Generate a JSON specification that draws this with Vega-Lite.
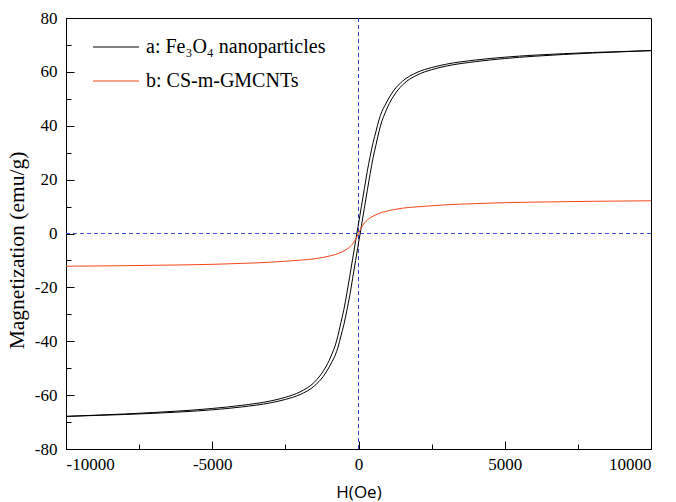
{
  "$schema": "https://vega.github.io/schema/vega-lite/v6.json",
  "width": 585,
  "height": 431,
  "autosize": "none",
  "padding": {"left": 66, "top": 18, "right": 25, "bottom": 53},
  "background": "white",
  "config": {
    "view": {"stroke": "#000", "strokeWidth": 1},
    "axis": {
      "domainColor": "#000", "tickColor": "#000", "labelColor": "#000", "titleColor": "#000",
      "labelFont": "Liberation Serif", "labelFontSize": 17, "grid": false, "tickWidth": 1
    }
  },
  "datasets": {
    "curves": [
      {"sample": "a: Fe₃O₄ nanoparticles", "branch": "d", "H": 10000, "M": 67.9},
      {"sample": "a: Fe₃O₄ nanoparticles", "branch": "d", "H": 9000, "M": 67.55},
      {"sample": "a: Fe₃O₄ nanoparticles", "branch": "d", "H": 8000, "M": 67.2},
      {"sample": "a: Fe₃O₄ nanoparticles", "branch": "d", "H": 7000, "M": 66.75},
      {"sample": "a: Fe₃O₄ nanoparticles", "branch": "d", "H": 6000, "M": 66.2},
      {"sample": "a: Fe₃O₄ nanoparticles", "branch": "d", "H": 5000, "M": 65.45},
      {"sample": "a: Fe₃O₄ nanoparticles", "branch": "d", "H": 4000, "M": 64.4},
      {"sample": "a: Fe₃O₄ nanoparticles", "branch": "d", "H": 3000, "M": 62.85},
      {"sample": "a: Fe₃O₄ nanoparticles", "branch": "d", "H": 2500, "M": 61.6},
      {"sample": "a: Fe₃O₄ nanoparticles", "branch": "d", "H": 2000, "M": 59.8},
      {"sample": "a: Fe₃O₄ nanoparticles", "branch": "d", "H": 1500, "M": 56.5},
      {"sample": "a: Fe₃O₄ nanoparticles", "branch": "d", "H": 1200, "M": 53.0},
      {"sample": "a: Fe₃O₄ nanoparticles", "branch": "d", "H": 1000, "M": 49.55},
      {"sample": "a: Fe₃O₄ nanoparticles", "branch": "d", "H": 900, "M": 47.5},
      {"sample": "a: Fe₃O₄ nanoparticles", "branch": "d", "H": 800, "M": 45.3},
      {"sample": "a: Fe₃O₄ nanoparticles", "branch": "d", "H": 700, "M": 42.2},
      {"sample": "a: Fe₃O₄ nanoparticles", "branch": "d", "H": 600, "M": 38.0},
      {"sample": "a: Fe₃O₄ nanoparticles", "branch": "d", "H": 500, "M": 33.8},
      {"sample": "a: Fe₃O₄ nanoparticles", "branch": "d", "H": 400, "M": 28.7},
      {"sample": "a: Fe₃O₄ nanoparticles", "branch": "d", "H": 300, "M": 23.1},
      {"sample": "a: Fe₃O₄ nanoparticles", "branch": "d", "H": 200, "M": 16.6},
      {"sample": "a: Fe₃O₄ nanoparticles", "branch": "d", "H": 100, "M": 10.1},
      {"sample": "a: Fe₃O₄ nanoparticles", "branch": "d", "H": 0, "M": 3.6},
      {"sample": "a: Fe₃O₄ nanoparticles", "branch": "d", "H": -100, "M": -2.9},
      {"sample": "a: Fe₃O₄ nanoparticles", "branch": "d", "H": -200, "M": -9.4},
      {"sample": "a: Fe₃O₄ nanoparticles", "branch": "d", "H": -300, "M": -15.9},
      {"sample": "a: Fe₃O₄ nanoparticles", "branch": "d", "H": -400, "M": -22.3},
      {"sample": "a: Fe₃O₄ nanoparticles", "branch": "d", "H": -500, "M": -28.2},
      {"sample": "a: Fe₃O₄ nanoparticles", "branch": "d", "H": -600, "M": -33.0},
      {"sample": "a: Fe₃O₄ nanoparticles", "branch": "d", "H": -700, "M": -37.8},
      {"sample": "a: Fe₃O₄ nanoparticles", "branch": "d", "H": -800, "M": -41.7},
      {"sample": "a: Fe₃O₄ nanoparticles", "branch": "d", "H": -900, "M": -44.5},
      {"sample": "a: Fe₃O₄ nanoparticles", "branch": "d", "H": -1000, "M": -47.05},
      {"sample": "a: Fe₃O₄ nanoparticles", "branch": "d", "H": -1200, "M": -51.0},
      {"sample": "a: Fe₃O₄ nanoparticles", "branch": "d", "H": -1500, "M": -55.1},
      {"sample": "a: Fe₃O₄ nanoparticles", "branch": "d", "H": -2000, "M": -58.8},
      {"sample": "a: Fe₃O₄ nanoparticles", "branch": "d", "H": -2500, "M": -60.8},
      {"sample": "a: Fe₃O₄ nanoparticles", "branch": "d", "H": -3000, "M": -62.15},
      {"sample": "a: Fe₃O₄ nanoparticles", "branch": "d", "H": -4000, "M": -63.8},
      {"sample": "a: Fe₃O₄ nanoparticles", "branch": "d", "H": -5000, "M": -64.95},
      {"sample": "a: Fe₃O₄ nanoparticles", "branch": "d", "H": -6000, "M": -65.8},
      {"sample": "a: Fe₃O₄ nanoparticles", "branch": "d", "H": -7000, "M": -66.45},
      {"sample": "a: Fe₃O₄ nanoparticles", "branch": "d", "H": -8000, "M": -67.0},
      {"sample": "a: Fe₃O₄ nanoparticles", "branch": "d", "H": -9000, "M": -67.45},
      {"sample": "a: Fe₃O₄ nanoparticles", "branch": "d", "H": -10000, "M": -67.9},
      {"sample": "a: Fe₃O₄ nanoparticles", "branch": "u", "H": -10000, "M": -67.9},
      {"sample": "a: Fe₃O₄ nanoparticles", "branch": "u", "H": -9000, "M": -67.55},
      {"sample": "a: Fe₃O₄ nanoparticles", "branch": "u", "H": -8000, "M": -67.2},
      {"sample": "a: Fe₃O₄ nanoparticles", "branch": "u", "H": -7000, "M": -66.75},
      {"sample": "a: Fe₃O₄ nanoparticles", "branch": "u", "H": -6000, "M": -66.2},
      {"sample": "a: Fe₃O₄ nanoparticles", "branch": "u", "H": -5000, "M": -65.45},
      {"sample": "a: Fe₃O₄ nanoparticles", "branch": "u", "H": -4000, "M": -64.4},
      {"sample": "a: Fe₃O₄ nanoparticles", "branch": "u", "H": -3000, "M": -62.85},
      {"sample": "a: Fe₃O₄ nanoparticles", "branch": "u", "H": -2500, "M": -61.6},
      {"sample": "a: Fe₃O₄ nanoparticles", "branch": "u", "H": -2000, "M": -59.8},
      {"sample": "a: Fe₃O₄ nanoparticles", "branch": "u", "H": -1500, "M": -56.5},
      {"sample": "a: Fe₃O₄ nanoparticles", "branch": "u", "H": -1200, "M": -53.0},
      {"sample": "a: Fe₃O₄ nanoparticles", "branch": "u", "H": -1000, "M": -49.55},
      {"sample": "a: Fe₃O₄ nanoparticles", "branch": "u", "H": -900, "M": -47.5},
      {"sample": "a: Fe₃O₄ nanoparticles", "branch": "u", "H": -800, "M": -45.3},
      {"sample": "a: Fe₃O₄ nanoparticles", "branch": "u", "H": -700, "M": -42.2},
      {"sample": "a: Fe₃O₄ nanoparticles", "branch": "u", "H": -600, "M": -38.0},
      {"sample": "a: Fe₃O₄ nanoparticles", "branch": "u", "H": -500, "M": -33.8},
      {"sample": "a: Fe₃O₄ nanoparticles", "branch": "u", "H": -400, "M": -28.7},
      {"sample": "a: Fe₃O₄ nanoparticles", "branch": "u", "H": -300, "M": -23.1},
      {"sample": "a: Fe₃O₄ nanoparticles", "branch": "u", "H": -200, "M": -16.6},
      {"sample": "a: Fe₃O₄ nanoparticles", "branch": "u", "H": -100, "M": -10.1},
      {"sample": "a: Fe₃O₄ nanoparticles", "branch": "u", "H": 0, "M": -3.6},
      {"sample": "a: Fe₃O₄ nanoparticles", "branch": "u", "H": 100, "M": 2.9},
      {"sample": "a: Fe₃O₄ nanoparticles", "branch": "u", "H": 200, "M": 9.4},
      {"sample": "a: Fe₃O₄ nanoparticles", "branch": "u", "H": 300, "M": 15.9},
      {"sample": "a: Fe₃O₄ nanoparticles", "branch": "u", "H": 400, "M": 22.3},
      {"sample": "a: Fe₃O₄ nanoparticles", "branch": "u", "H": 500, "M": 28.2},
      {"sample": "a: Fe₃O₄ nanoparticles", "branch": "u", "H": 600, "M": 33.0},
      {"sample": "a: Fe₃O₄ nanoparticles", "branch": "u", "H": 700, "M": 37.8},
      {"sample": "a: Fe₃O₄ nanoparticles", "branch": "u", "H": 800, "M": 41.7},
      {"sample": "a: Fe₃O₄ nanoparticles", "branch": "u", "H": 900, "M": 44.5},
      {"sample": "a: Fe₃O₄ nanoparticles", "branch": "u", "H": 1000, "M": 47.05},
      {"sample": "a: Fe₃O₄ nanoparticles", "branch": "u", "H": 1200, "M": 51.0},
      {"sample": "a: Fe₃O₄ nanoparticles", "branch": "u", "H": 1500, "M": 55.1},
      {"sample": "a: Fe₃O₄ nanoparticles", "branch": "u", "H": 2000, "M": 58.8},
      {"sample": "a: Fe₃O₄ nanoparticles", "branch": "u", "H": 2500, "M": 60.8},
      {"sample": "a: Fe₃O₄ nanoparticles", "branch": "u", "H": 3000, "M": 62.15},
      {"sample": "a: Fe₃O₄ nanoparticles", "branch": "u", "H": 4000, "M": 63.8},
      {"sample": "a: Fe₃O₄ nanoparticles", "branch": "u", "H": 5000, "M": 64.95},
      {"sample": "a: Fe₃O₄ nanoparticles", "branch": "u", "H": 6000, "M": 65.8},
      {"sample": "a: Fe₃O₄ nanoparticles", "branch": "u", "H": 7000, "M": 66.45},
      {"sample": "a: Fe₃O₄ nanoparticles", "branch": "u", "H": 8000, "M": 67.0},
      {"sample": "a: Fe₃O₄ nanoparticles", "branch": "u", "H": 9000, "M": 67.45},
      {"sample": "a: Fe₃O₄ nanoparticles", "branch": "u", "H": 10000, "M": 67.9},
      {"sample": "b: CS-m-GMCNTs", "branch": "d", "H": -10000, "M": -12.15},
      {"sample": "b: CS-m-GMCNTs", "branch": "d", "H": -9000, "M": -12.05},
      {"sample": "b: CS-m-GMCNTs", "branch": "d", "H": -8000, "M": -11.95},
      {"sample": "b: CS-m-GMCNTs", "branch": "d", "H": -7000, "M": -11.8},
      {"sample": "b: CS-m-GMCNTs", "branch": "d", "H": -6000, "M": -11.65},
      {"sample": "b: CS-m-GMCNTs", "branch": "d", "H": -5000, "M": -11.45},
      {"sample": "b: CS-m-GMCNTs", "branch": "d", "H": -4000, "M": -11.1},
      {"sample": "b: CS-m-GMCNTs", "branch": "d", "H": -3000, "M": -10.65},
      {"sample": "b: CS-m-GMCNTs", "branch": "d", "H": -2500, "M": -10.3},
      {"sample": "b: CS-m-GMCNTs", "branch": "d", "H": -2000, "M": -9.9},
      {"sample": "b: CS-m-GMCNTs", "branch": "d", "H": -1500, "M": -9.4},
      {"sample": "b: CS-m-GMCNTs", "branch": "d", "H": -1200, "M": -8.85},
      {"sample": "b: CS-m-GMCNTs", "branch": "d", "H": -1000, "M": -8.4},
      {"sample": "b: CS-m-GMCNTs", "branch": "d", "H": -900, "M": -8.1},
      {"sample": "b: CS-m-GMCNTs", "branch": "d", "H": -800, "M": -7.85},
      {"sample": "b: CS-m-GMCNTs", "branch": "d", "H": -700, "M": -7.45},
      {"sample": "b: CS-m-GMCNTs", "branch": "d", "H": -600, "M": -7.0},
      {"sample": "b: CS-m-GMCNTs", "branch": "d", "H": -500, "M": -6.45},
      {"sample": "b: CS-m-GMCNTs", "branch": "d", "H": -400, "M": -5.8},
      {"sample": "b: CS-m-GMCNTs", "branch": "d", "H": -300, "M": -5.0},
      {"sample": "b: CS-m-GMCNTs", "branch": "d", "H": -200, "M": -3.9},
      {"sample": "b: CS-m-GMCNTs", "branch": "d", "H": -100, "M": -2.2},
      {"sample": "b: CS-m-GMCNTs", "branch": "d", "H": 0, "M": 0},
      {"sample": "b: CS-m-GMCNTs", "branch": "d", "H": 100, "M": 2.2},
      {"sample": "b: CS-m-GMCNTs", "branch": "d", "H": 200, "M": 3.9},
      {"sample": "b: CS-m-GMCNTs", "branch": "d", "H": 300, "M": 5.0},
      {"sample": "b: CS-m-GMCNTs", "branch": "d", "H": 400, "M": 5.8},
      {"sample": "b: CS-m-GMCNTs", "branch": "d", "H": 500, "M": 6.45},
      {"sample": "b: CS-m-GMCNTs", "branch": "d", "H": 600, "M": 7.0},
      {"sample": "b: CS-m-GMCNTs", "branch": "d", "H": 700, "M": 7.45},
      {"sample": "b: CS-m-GMCNTs", "branch": "d", "H": 800, "M": 7.85},
      {"sample": "b: CS-m-GMCNTs", "branch": "d", "H": 900, "M": 8.1},
      {"sample": "b: CS-m-GMCNTs", "branch": "d", "H": 1000, "M": 8.4},
      {"sample": "b: CS-m-GMCNTs", "branch": "d", "H": 1200, "M": 8.85},
      {"sample": "b: CS-m-GMCNTs", "branch": "d", "H": 1500, "M": 9.4},
      {"sample": "b: CS-m-GMCNTs", "branch": "d", "H": 2000, "M": 9.9},
      {"sample": "b: CS-m-GMCNTs", "branch": "d", "H": 2500, "M": 10.3},
      {"sample": "b: CS-m-GMCNTs", "branch": "d", "H": 3000, "M": 10.65},
      {"sample": "b: CS-m-GMCNTs", "branch": "d", "H": 4000, "M": 11.1},
      {"sample": "b: CS-m-GMCNTs", "branch": "d", "H": 5000, "M": 11.45},
      {"sample": "b: CS-m-GMCNTs", "branch": "d", "H": 6000, "M": 11.65},
      {"sample": "b: CS-m-GMCNTs", "branch": "d", "H": 7000, "M": 11.8},
      {"sample": "b: CS-m-GMCNTs", "branch": "d", "H": 8000, "M": 11.95},
      {"sample": "b: CS-m-GMCNTs", "branch": "d", "H": 9000, "M": 12.05},
      {"sample": "b: CS-m-GMCNTs", "branch": "d", "H": 10000, "M": 12.15}
    ],
    "zero": [{"H": 0, "M": 0}]
  },
  "resolve": {"axis": {"x": "independent", "y": "independent"}},
  "layer": [
    {
      "data": {"name": "zero"},
      "mark": {"type": "rule", "stroke": "#2f42c4", "strokeDash": [4, 3], "strokeWidth": 1},
      "encoding": {
        "x": {"field": "H", "type": "quantitative",
          "scale": {"domain": [-10000, 10000], "nice": false, "zero": false},
          "axis": {"orient": "bottom", "values": [-7500, -2500, 2500, 7500], "labels": false, "domain": false, "tickSize": -5, "title": null}}
      }
    },
    {
      "data": {"name": "zero"},
      "mark": {"type": "rule", "stroke": "#3a4fd6", "strokeDash": [4, 3], "strokeWidth": 1.1},
      "encoding": {
        "y": {"field": "M", "type": "quantitative",
          "scale": {"domain": [-80, 80], "nice": false, "zero": false},
          "axis": {"orient": "left", "values": [-70, -50, -30, -10, 10, 30, 50, 70], "labels": false, "domain": false, "tickSize": -5, "title": null}}
      }
    },
    {
      "data": {"name": "curves"},
      "mark": {"type": "line", "interpolate": "monotone", "strokeWidth": 1},
      "encoding": {
        "x": {"field": "H", "type": "quantitative",
          "axis": {"orient": "bottom", "values": [-10000, -5000, 0, 5000, 10000], "tickSize": -8, "labelPadding": 15,
            "labelExpr": "'' + datum.value", "labelFont": "Liberation Serif", "labelFontSize": 17,
            "title": "H(Oe)", "titleFont": "Open Sans", "titleFontSize": 17, "titleFontWeight": "normal", "titleY": 43, "titleBaseline": "middle"}},
        "y": {"field": "M", "type": "quantitative",
          "axis": {"orient": "left", "values": [-80, -60, -40, -20, 0, 20, 40, 60, 80], "tickSize": -8, "labelPadding": 17,
            "labelExpr": "'' + datum.value", "labelFont": "Liberation Serif", "labelFontSize": 17,
            "title": "Magnetization (emu/g)", "titleFont": "Liberation Serif", "titleFontSize": 21.5, "titleFontWeight": "normal", "titleX": -38, "titleY": 232}},
        "color": {"field": "sample", "type": "nominal",
          "scale": {"domain": ["a: Fe₃O₄ nanoparticles", "b: CS-m-GMCNTs"], "range": ["#000000", "#f5461a"]},
          "legend": {"orient": "none", "legendX": 26, "legendY": 5, "title": null, "symbolType": "stroke", "symbolSize": 2116,
            "symbolStrokeWidth": 1.2, "labelFont": "Liberation Serif", "labelFontSize": 20, "labelColor": "#000", "labelOffset": 6, "labelLimit": 0, "rowPadding": 0, "padding": 0}},
        "detail": {"field": "branch"}
      }
    }
  ]
}
